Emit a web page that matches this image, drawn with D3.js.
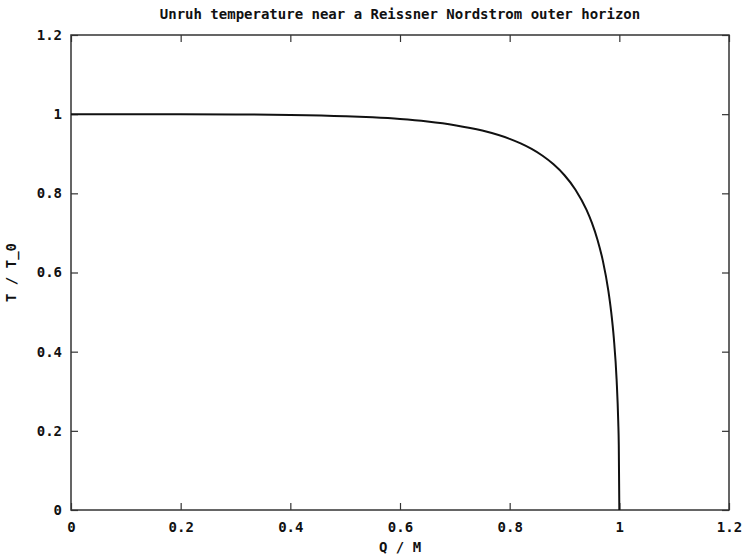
<!DOCTYPE html>
<html>
<head>
<meta charset="utf-8">
<script src="https://cdn.jsdelivr.net/npm/d3@7"></script>
<style>
  html, body { margin: 0; padding: 0; background: #fff; }
  svg text { font-family: "DejaVu Sans Mono", "Liberation Mono", monospace; font-weight: bold; font-size: 14px; fill: #111; }
</style>
</head>
<body>
<svg id="chart" width="745" height="557"></svg>
<script>
// Charge-to-mass ratio Q/M
const chargeRatio = [0, 0.1, 0.2, 0.3, 0.4, 0.5, 0.55, 0.6, 0.65, 0.7, 0.75, 0.8,
  0.82, 0.84, 0.86, 0.88, 0.9, 0.92, 0.94, 0.95, 0.96, 0.97, 0.98, 0.985,
  0.99, 0.995, 0.998, 0.999, 1.0];
// Temperature relative to the uncharged case, T / T_0
const tempRatio = [1.0, 1.0, 0.9999, 0.9994, 0.9981, 0.9948, 0.9919, 0.9877, 0.9814, 0.9722, 0.9585, 0.9375,
  0.926, 0.9121, 0.8949, 0.8733, 0.8457, 0.8092, 0.7587, 0.7253, 0.6836, 0.6293, 0.5537, 0.502,
  0.4334, 0.3302, 0.2237, 0.1639, 0];

const xTicks = [0, 0.2, 0.4, 0.6, 0.8, 1, 1.2];
const yTicks = [0, 0.2, 0.4, 0.6, 0.8, 1, 1.2];

const titleText = "Unruh temperature near a Reissner Nordstrom outer horizon";
const xLabel = "Q / M";
const yLabel = "T / T_0";

const svg = d3.select("#chart");
const plot = { left: 71, right: 729, top: 35, bottom: 510 };

const x = d3.scaleLinear().domain([0, 1.2]).range([plot.left, plot.right]);
const y = d3.scaleLinear().domain([0, 1.2]).range([plot.bottom, plot.top]);

const fmt = d => d === 0 ? "0" : (d === 1 ? "1" : d3.format(".1f")(d));
const tickLen = 7;
const axisColor = "#333";

// Frame with inward ticks on all four sides
function styleAxis(g) {
  g.select(".domain").remove();
  g.selectAll(".tick line").attr("stroke", axisColor).attr("stroke-width", 1.2);
}

svg.append("g")
  .attr("transform", `translate(0,${plot.bottom})`)
  .call(d3.axisBottom(x).tickValues(xTicks).tickFormat(fmt).tickSizeInner(-tickLen).tickSizeOuter(0).tickPadding(12))
  .call(styleAxis);

svg.append("g")
  .attr("transform", `translate(0,${plot.top})`)
  .call(d3.axisTop(x).tickValues(xTicks).tickFormat("").tickSizeInner(-tickLen).tickSizeOuter(0))
  .call(styleAxis);

svg.append("g")
  .attr("transform", `translate(${plot.left},0)`)
  .call(d3.axisLeft(y).tickValues(yTicks).tickFormat(fmt).tickSizeInner(-tickLen).tickSizeOuter(0).tickPadding(9))
  .call(styleAxis);

svg.append("g")
  .attr("transform", `translate(${plot.right},0)`)
  .call(d3.axisRight(y).tickValues(yTicks).tickFormat("").tickSizeInner(-tickLen).tickSizeOuter(0))
  .call(styleAxis);

// Let the stylesheet decide the tick label font
svg.selectAll(".tick text")
  .attr("fill", "#111")
  .attr("font-family", null)
  .attr("font-size", null);

svg.append("rect")
  .attr("x", plot.left).attr("y", plot.top)
  .attr("width", plot.right - plot.left).attr("height", plot.bottom - plot.top)
  .attr("fill", "none").attr("stroke", axisColor).attr("stroke-width", 1.5);

// Temperature curve
const pts = chargeRatio.map((q, i) => [q, tempRatio[i]]);
svg.append("path")
  .datum(pts)
  .attr("fill", "none")
  .attr("stroke", "#111")
  .attr("stroke-width", 2)
  .attr("d", d3.line().x(d => x(d[0])).y(d => y(d[1])).curve(d3.curveMonotoneX));

// Titles
svg.append("text")
  .attr("x", (plot.left + plot.right) / 2).attr("y", 19)
  .attr("text-anchor", "middle")
  .text(titleText);

svg.append("text")
  .attr("x", (plot.left + plot.right) / 2).attr("y", 552)
  .attr("text-anchor", "middle")
  .text(xLabel);

svg.append("text")
  .attr("transform", `translate(16,${(plot.top + plot.bottom) / 2}) rotate(-90)`)
  .attr("text-anchor", "middle")
  .text(yLabel);
</script>
</body>
</html>
